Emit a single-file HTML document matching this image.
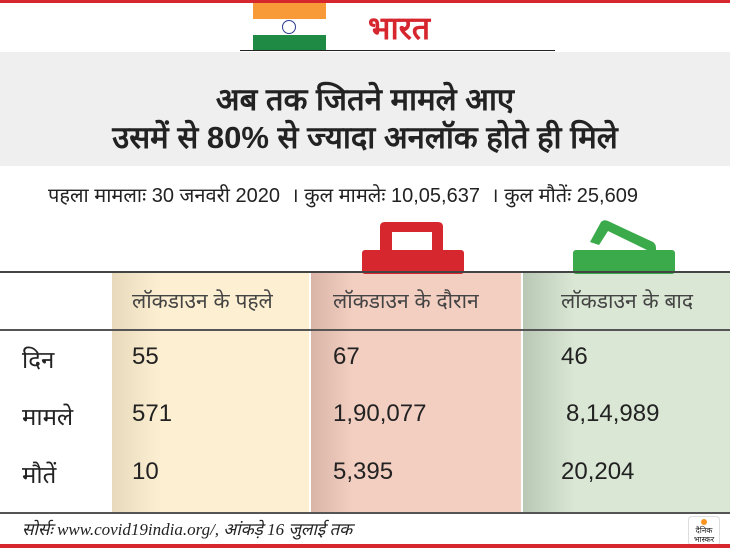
<!DOCTYPE html>
<html><head><meta charset="utf-8"><style>
body{margin:0;width:730px;height:548px;background:#fff;position:relative;overflow:hidden;font-family:"Liberation Sans",sans-serif;color:#222}
.a{position:absolute}
.t{font-size:31px;font-weight:bold;text-align:center;width:730px;left:0;color:#222}
.c{font-size:24px;color:#222}
.h{font-size:21px;color:#444}
.l{height:2px;background:#444;left:0;width:730px}
</style></head><body>
<div class="a" style="left:0;top:0;width:730px;height:3px;background:#d6262e"></div>
<div class="a" style="left:253px;top:3px;width:73px;height:16px;background:#f89a38"></div>
<div class="a" style="left:253px;top:19px;width:73px;height:16px;background:#fff"></div>
<div class="a" style="left:282px;top:20px;width:12px;height:12px;border:1.5px solid #2a3b8f;border-radius:50%"></div>
<div class="a" style="left:253px;top:35px;width:73px;height:16px;background:#1e8a44"></div>
<div class="a" style="left:368px;top:6px;font-size:32px;font-weight:bold;color:#d6262e">भारत</div>
<div class="a" style="left:240px;top:50px;width:315px;height:1px;background:#222"></div>
<div class="a" style="left:0;top:52px;width:730px;height:114px;background:#efefef"></div>
<div class="a t" style="top:78px">अब तक जितने मामले आए</div>
<div class="a t" style="top:116px">उसमें से 80% से ज्यादा अनलॉक होते ही मिले</div>
<div class="a" style="left:48px;top:181px;font-size:20px">पहला मामलाः 30 जनवरी 2020 &nbsp;। कुल मामलेः 10,05,637 &nbsp;। कुल मौतेंः 25,609</div>
<div class="a" style="left:112px;top:273px;width:197px;height:240px;background:linear-gradient(90deg,#e8d9bb,#fdf0d2 25%)"></div>
<div class="a" style="left:311px;top:273px;width:210px;height:240px;background:linear-gradient(90deg,#d9b5a8,#f3cfc2 20%)"></div>
<div class="a" style="left:523px;top:273px;width:207px;height:240px;background:linear-gradient(90deg,#b9c8b4,#d9e7d4 25%)"></div>
<svg class="a" style="left:360px;top:220px" width="110" height="54"><path d="M20 32V7q0-5 5-5h53q5 0 5 5v25h-11V12H32v20z" fill="#d6262e"/><rect x="2" y="30" width="102" height="24" rx="3" fill="#d6262e"/></svg>
<svg class="a" style="left:570px;top:215px" width="110" height="59"><path d="M20 27l11-20q3-3 7-1l45 21q3 2 3 6v10h-9v-8L38 16 29 30z" fill="#3aaa4a"/><rect x="3" y="35" width="102" height="24" rx="3" fill="#3aaa4a"/></svg>
<div class="a l" style="top:271px"></div>
<div class="a h" style="left:132px;top:287px">लॉकडाउन के पहले</div>
<div class="a h" style="left:333px;top:287px">लॉकडाउन के दौरान</div>
<div class="a h" style="left:561px;top:287px">लॉकडाउन के बाद</div>
<div class="a l" style="top:329px;background:#555"></div>
<div class="a c" style="left:22px;top:343px">दिन</div><div class="a c" style="left:132px;top:343px">55</div><div class="a c" style="left:333px;top:343px">67</div><div class="a c" style="left:561px;top:343px">46</div>
<div class="a c" style="left:22px;top:400px">मामले</div><div class="a c" style="left:132px;top:400px">571</div><div class="a c" style="left:333px;top:400px">1,90,077</div><div class="a c" style="left:566px;top:400px">8,14,989</div>
<div class="a c" style="left:22px;top:458px">मौतें</div><div class="a c" style="left:132px;top:458px">10</div><div class="a c" style="left:333px;top:458px">5,395</div><div class="a c" style="left:561px;top:458px">20,204</div>
<div class="a l" style="top:512px;background:#555"></div>
<div class="a" style="left:22px;top:517px;font-size:17px;font-style:italic;font-family:'Liberation Serif',serif">सोर्सः www.covid19india.org/, आंकड़े 16 जुलाई तक</div>
<div class="a" style="left:688px;top:516px;width:30px;height:28px;border:1px solid #ddd;border-radius:4px;font-size:8px;text-align:center;line-height:9px"><div style="width:6px;height:6px;background:#f7931e;border-radius:50%;margin:2px auto 1px"></div>दैनिक<br>भास्कर</div>
<div class="a" style="left:0;top:544px;width:730px;height:4px;background:#d6262e"></div>
</body></html>
